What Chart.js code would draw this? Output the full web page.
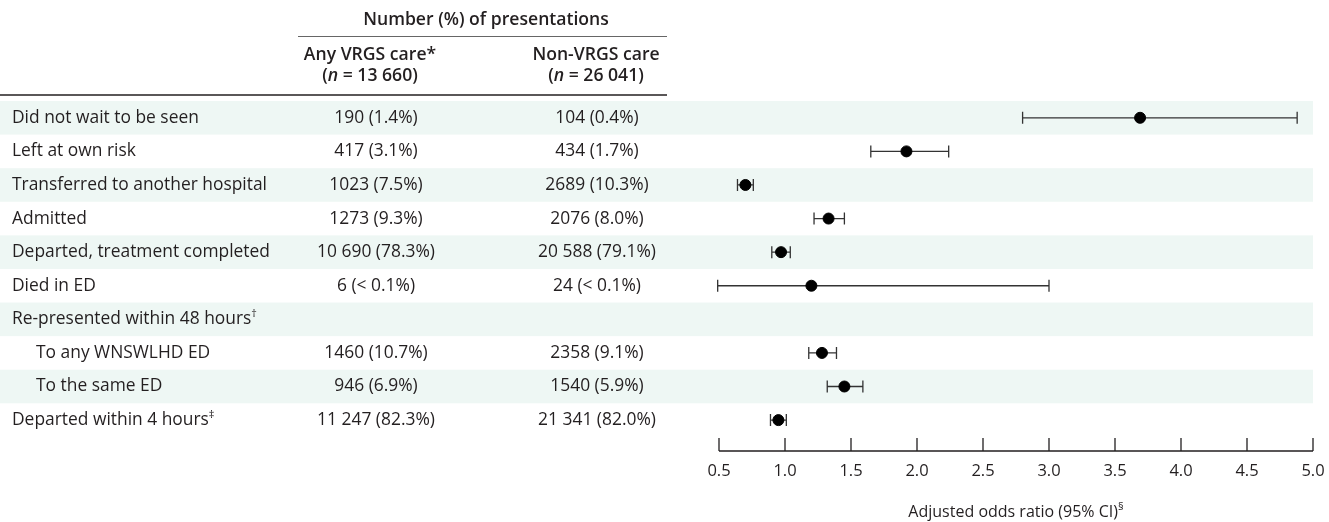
<!DOCTYPE html>
<html>
<head>
<meta charset="utf-8">
<script src="https://cdn.jsdelivr.net/npm/chart.js@4"></script>
<style>
  html, body { margin: 0; padding: 0; background: #fff; }
  #wrap { width: 1329px; height: 522px; }
</style>
</head>
<body>
<div id="wrap"><canvas id="forest"></canvas></div>
<script>
// rows of the table / forest plot
const categories = [
  'Did not wait to be seen',
  'Left at own risk',
  'Transferred to another hospital',
  'Admitted',
  'Departed, treatment completed',
  'Died in ED',
  'Re-presented within 48 hours',
  'To any WNSWLHD ED',
  'To the same ED',
  'Departed within 4 hours'
];
const footMarks = ['', '', '', '', '', '', '\u2020', '', '', '\u2021'];
const indented = [false, false, false, false, false, false, false, true, true, false];

const vrgsCounts = ['190 (1.4%)', '417 (3.1%)', '1023 (7.5%)', '1273 (9.3%)', '10 690 (78.3%)',
  '6 (< 0.1%)', '', '1460 (10.7%)', '946 (6.9%)', '11 247 (82.3%)'];
const nonVrgsCounts = ['104 (0.4%)', '434 (1.7%)', '2689 (10.3%)', '2076 (8.0%)', '20 588 (79.1%)',
  '24 (< 0.1%)', '', '2358 (9.1%)', '1540 (5.9%)', '21 341 (82.0%)'];

// adjusted odds ratios and 95% CI
const oddsRatio = [3.69, 1.92, 0.70, 1.33, 0.97, 1.20, null, 1.28, 1.45, 0.95];
const ciLow     = [2.80, 1.65, 0.64, 1.22, 0.90, 0.49, null, 1.18, 1.32, 0.89];
const ciHigh    = [4.88, 2.24, 0.76, 1.45, 1.04, 3.00, null, 1.39, 1.59, 1.01];

const xTicks = [0.5, 1.0, 1.5, 2.0, 2.5, 3.0, 3.5, 4.0, 4.5, 5.0];

const FONT = '"Open Sans"';
const TXT = '#231f20';
const BAND = '#eef7f4';

const points = [];
oddsRatio.forEach((v, i) => { if (v !== null) points.push({ x: v, y: i }); });

// draw text made of pieces with different fonts / raised superscripts
function drawPieces(ctx, pieces, x, y, align) {
  let total = 0;
  pieces.forEach(p => { ctx.font = p.font; total += ctx.measureText(p.t).width; });
  let cx = align === 'center' ? x - total / 2 : x;
  ctx.textAlign = 'left';
  pieces.forEach(p => {
    ctx.font = p.font;
    ctx.fillText(p.t, cx, y + (p.dy || 0));
    cx += ctx.measureText(p.t).width;
  });
}

const reg = '17.4px ' + FONT;
const head = '600 17.6px ' + FONT;
const headIta = 'italic 600 17.6px ' + FONT;
const sup = '11px ' + FONT;

const tablePlugin = {
  id: 'tablePlugin',
  beforeDraw(chart) {
    const ctx = chart.ctx;
    const ys = chart.scales.y;
    const xs = chart.scales.x;
    ctx.save();
    // alternating row bands
    categories.forEach((c, i) => {
      if (i % 2 === 0) {
        const top = ys.getPixelForValue(i - 0.5);
        const bot = ys.getPixelForValue(i + 0.5);
        ctx.fillStyle = BAND;
        ctx.fillRect(0, top, xs.right, bot - top);
      }
    });
    ctx.restore();
  },
  beforeDatasetsDraw(chart) {
    const ctx = chart.ctx;
    const ys = chart.scales.y;
    const xs = chart.scales.x;
    ctx.save();
    ctx.strokeStyle = '#333';
    ctx.lineWidth = 1.3;
    oddsRatio.forEach((v, i) => {
      if (v === null) return;
      const y = ys.getPixelForValue(i);
      const x1 = xs.getPixelForValue(ciLow[i]);
      const x2 = xs.getPixelForValue(ciHigh[i]);
      ctx.beginPath();
      ctx.moveTo(x1, y); ctx.lineTo(x2, y);
      ctx.moveTo(x1, y - 6); ctx.lineTo(x1, y + 6);
      ctx.moveTo(x2, y - 6); ctx.lineTo(x2, y + 6);
      ctx.stroke();
    });
    ctx.restore();
  },
  afterDraw(chart) {
    const ctx = chart.ctx;
    const ys = chart.scales.y;
    const xs = chart.scales.x;
    ctx.save();
    ctx.fillStyle = TXT;
    ctx.textBaseline = 'middle';

    // header
    ctx.font = head;
    ctx.textAlign = 'center';
    ctx.fillText('Number (%) of presentations', 486, 20);
    ctx.fillText('Any VRGS care*', 370, 55);
    ctx.fillText('Non-VRGS care', 596, 55);
    drawPieces(ctx, [{ t: '(', font: head }, { t: 'n', font: headIta }, { t: ' = 13 660)', font: head }], 370, 76, 'center');
    drawPieces(ctx, [{ t: '(', font: head }, { t: 'n', font: headIta }, { t: ' = 26 041)', font: head }], 596, 76, 'center');

    ctx.strokeStyle = '#666';
    ctx.lineWidth = 1;
    ctx.beginPath(); ctx.moveTo(298, 36.5); ctx.lineTo(667, 36.5); ctx.stroke();
    ctx.strokeStyle = '#231f20';
    ctx.lineWidth = 1.5;
    ctx.beginPath(); ctx.moveTo(0, 95); ctx.lineTo(667, 95); ctx.stroke();

    // rows
    categories.forEach((c, i) => {
      const y = ys.getPixelForValue(i);
      const lx = indented[i] ? 36 : 12;
      const pieces = [{ t: c, font: reg }];
      if (footMarks[i]) pieces.push({ t: footMarks[i], font: sup, dy: -5 });
      drawPieces(ctx, pieces, lx, y, 'left');
      ctx.font = reg;
      ctx.textAlign = 'center';
      if (vrgsCounts[i]) ctx.fillText(vrgsCounts[i], 376, y);
      if (nonVrgsCounts[i]) ctx.fillText(nonVrgsCounts[i], 597, y);
    });

    // x axis line with tick marks pointing up
    const axisY = ys.bottom;
    ctx.strokeStyle = '#231f20';
    ctx.lineWidth = 1.3;
    ctx.beginPath();
    ctx.moveTo(xs.left, axisY); ctx.lineTo(xs.right, axisY);
    xTicks.forEach(t => {
      const x = xs.getPixelForValue(t);
      ctx.moveTo(x, axisY); ctx.lineTo(x, axisY - 13);
    });
    ctx.stroke();

    // axis title
    const cx = (xs.left + xs.right) / 2;
    drawPieces(ctx, [{ t: 'Adjusted odds ratio (95% CI)', font: '16px ' + FONT }, { t: '\u00a7', font: sup, dy: -5 }], cx, 512, 'center');
    ctx.restore();
  }
};

new Chart(document.getElementById('forest'), {
  type: 'scatter',
  data: {
    datasets: [{
      label: 'Adjusted odds ratio',
      data: points,
      backgroundColor: '#000',
      borderColor: '#000',
      pointRadius: 5.5,
      pointHoverRadius: 5.5
    }]
  },
  plugins: [tablePlugin],
  options: {
    responsive: true,
    maintainAspectRatio: false,
    animation: false,
    layout: { padding: { left: 719, right: 16, top: 101, bottom: 0 } },
    plugins: {
      legend: { display: false },
      tooltip: { enabled: false }
    },
    scales: {
      x: {
        type: 'linear',
        min: 0.5,
        max: 5.0,
        afterBuildTicks: axis => { axis.ticks = xTicks.map(v => ({ value: v })); },
        afterFit: axis => { axis.height = 71; },
        grid: { display: false },
        border: { display: false },
        ticks: {
          color: TXT,
          font: { family: 'Open Sans', size: 16.5 },
          padding: 2,
          maxRotation: 0,
          callback: v => v.toFixed(1)
        },
        title: { display: false }
      },
      y: {
        type: 'linear',
        display: false,
        reverse: true,
        min: -0.5,
        max: 9.92
      }
    }
  }
});
</script>
</body>
</html>
